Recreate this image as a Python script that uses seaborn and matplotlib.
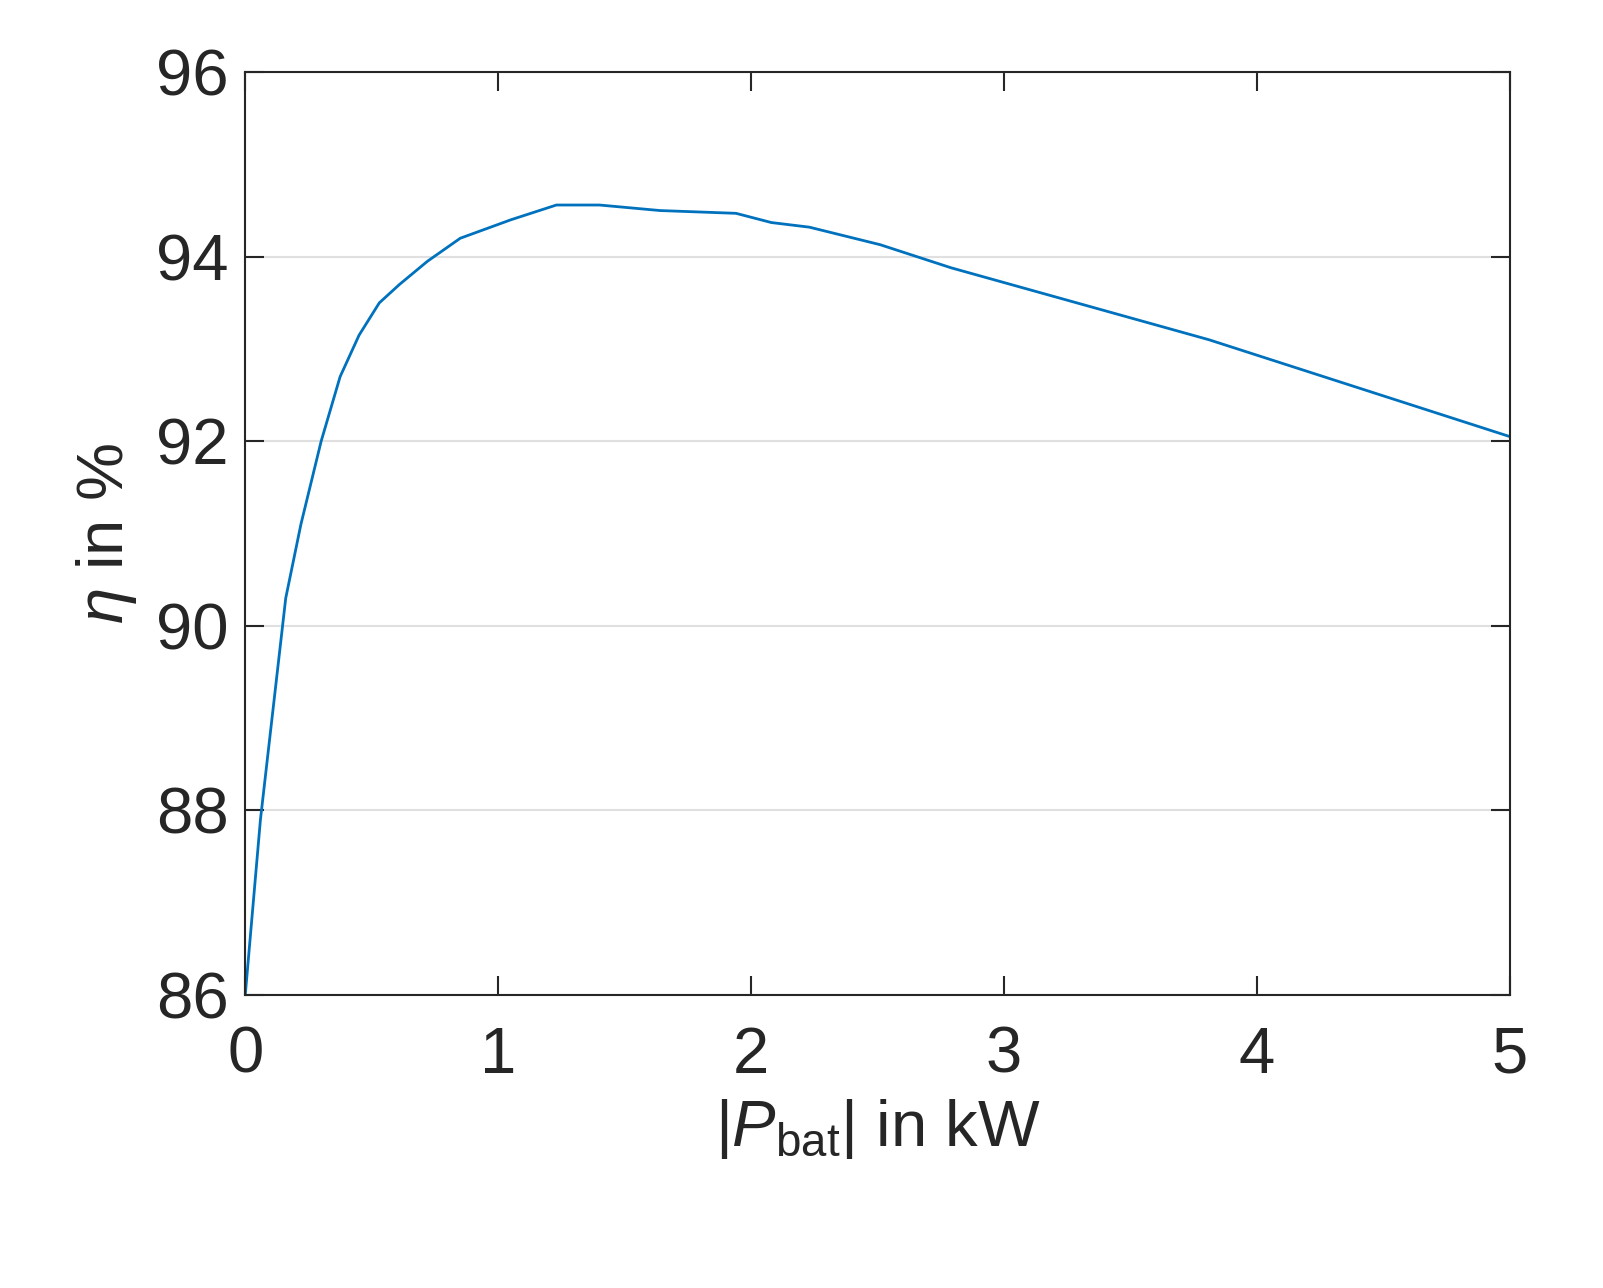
import numpy as np
import pandas as pd
import seaborn as sns
import matplotlib.pyplot as plt

# Efficiency curve
p_bat = [0.0, 0.06, 0.16, 0.22, 0.30, 0.375, 0.45, 0.53, 0.61, 0.72, 0.85, 1.05, 1.23, 1.40,
         1.64, 1.94, 2.08, 2.23, 2.51, 2.79, 3.81, 5.0]
eta = [86.0, 87.9, 90.3, 91.1, 92.0, 92.7, 93.15, 93.5, 93.7, 93.95, 94.2, 94.4, 94.56, 94.56,
       94.5, 94.47, 94.37, 94.32, 94.13, 93.88, 93.1, 92.05]
x_ticks = [0, 1, 2, 3, 4, 5]
y_ticks = [86, 88, 90, 92, 94, 96]

df = pd.DataFrame({'p': p_bat, 'eta': eta})

sns.set_style('white')
plt.rcParams['font.family'] = ['Liberation Sans', 'DejaVu Sans']
plt.rcParams['mathtext.fontset'] = 'custom'
plt.rcParams['mathtext.rm'] = 'Liberation Sans'
plt.rcParams['mathtext.it'] = 'Liberation Sans:italic'

fig = plt.figure(figsize=(16.03, 12.88), dpi=100)
ax = fig.add_axes([0.153, 0.2275, 0.789, 0.7165])

sns.lineplot(data=df, x='p', y='eta', ax=ax, color='#0072BD', linewidth=2)

ax.set_xlim(0, 5)
ax.set_ylim(86, 96)
ax.set_xticks(x_ticks)
ax.set_yticks(y_ticks)
ax.yaxis.grid(True, color='#e0e0e0', linewidth=1.5)
ax.set_axisbelow(True)
for s in ax.spines.values():
    s.set_color('#262626')
    s.set_linewidth(1.5)
ax.tick_params(direction='in', length=14, width=1.5, labelsize=47,
               top=True, right=True, bottom=True, left=True,
               colors='#262626', pad=12)
ax.tick_params(axis='x', pad=22)
ax.set_xlabel(r'|$P_{\mathrm{bat}}$| in kW', fontsize=47, color='#262626',
              labelpad=8)
ax.set_ylabel(r'$\eta$ in %', fontsize=47, color='#262626', labelpad=12)

fig.savefig('out.png', dpi=100)
